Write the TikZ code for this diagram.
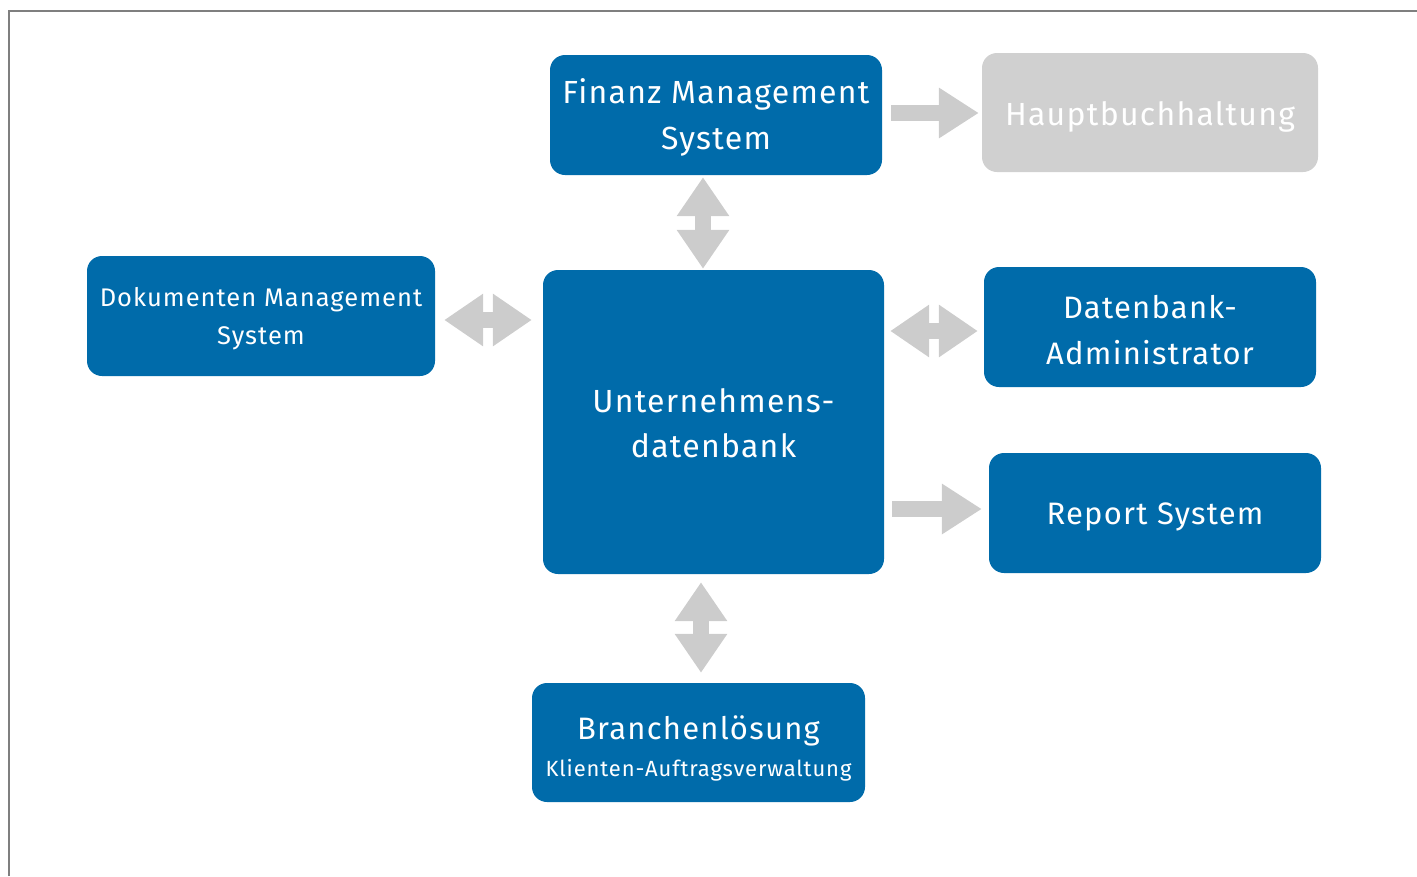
\documentclass[tikz,border=0pt]{standalone}
\usepackage{fontspec}
\setmainfont{Fira Sans}[LetterSpace=4]
\usetikzlibrary{arrows.meta,calc}
\definecolor{boxblue}{HTML}{006BAA}
\definecolor{arrowgray}{HTML}{CCCCCC}
\definecolor{boxgray}{HTML}{D0D0D0}
\definecolor{framegray}{HTML}{7F7F7F}
\tikzset{
  box/.style={fill=boxblue, rounded corners=15pt, inner sep=0pt,
    minimum width=332pt, minimum height=120pt},
  lbl/.style={text=white, align=center, inner sep=0pt},
  fat/.style={draw=arrowgray, line width=16pt, -{Triangle[length=40pt,width=48pt]}},
  fatboth/.style={draw=arrowgray, line width=16pt, {Triangle[length=39pt,width=50pt]}-{Triangle[length=39pt,width=50pt]}},
}
\begin{document}
\begin{tikzpicture}[x=1pt,y=-1pt]
\useasboundingbox (0,0) rectangle (1417,876);
\coordinate (fa) at (9,876);
\coordinate (fb) at (9,11);
\coordinate (fc) at (1417,11);
\draw[framegray, line width=1.5pt] (fa) -- (fb) -- (fc);

\node[box, label={[lbl, font=\fontsize{32}{46}\selectfont, yshift=-2pt]center:{Finanz Management\\System}}] (fin) at (716,115) {};
\node[box, fill=boxgray, minimum width=336pt, minimum height=119pt,
  label={[lbl, font=\fontsize{32}{46}\selectfont, yshift=-4pt]center:{Hauptbuchhaltung}}] (haupt) at (1150,112.5) {};
\node[box, minimum width=348pt,
  label={[lbl, font=\fontsize{25.5}{38}\selectfont, yshift=-3pt]center:{Dokumenten Management\\System}}] (dok) at (261,316) {};
\node[box, minimum width=341pt, minimum height=304pt,
  label={[lbl, font=\fontsize{32}{45}\selectfont, yshift=-1pt]center:{Unternehmens-\\datenbank}}] (unt) at (713.5,422) {};
\node[box, label={[lbl, font=\fontsize{31}{46}\selectfont, yshift=-3pt]center:{Datenbank-\\Administrator}}] (dba) at (1150,327) {};
\node[box, label={[lbl, font=\fontsize{31}{46}\selectfont, yshift=-4pt]center:{Report System}}] (rep) at (1155,513) {};
\node[box, minimum width=333pt, minimum height=119pt,
  label={[lbl, yshift=-6pt]center:{{\fontsize{31}{36}\selectfont Branchenlösung}\\[12pt]{\fontsize{22}{26}\selectfont Klienten-Auftragsverwaltung}}}] (bra) at (698.5,742.5) {};

\draw[fat] ($(fin.east)+(9,-2)$) -- ($(haupt.west)+(-3,0.5)$);
\draw[fat] ($(unt.east |- rep.west)+(8,-4)$) -- ($(rep.west)+(-7,-4)$);
\draw[fatboth] ($(dok.east)+(9,4)$) -- ($(unt.west |- dok.east)+(-11,4)$);
\draw[fatboth] ($(unt.east |- dba.west)+(6,4)$) -- ($(dba.west)+(-6,4)$);
\draw[fatboth] ($(fin.south)+(-13,2)$) -- ($(unt.north -| fin.south)+(-13,-1)$);
\draw[fatboth] ($(unt.south)+(-12.5,8)$) -- ($(bra.north -| unt.south)+(-12.5,-10)$);
\end{tikzpicture}
\end{document}
